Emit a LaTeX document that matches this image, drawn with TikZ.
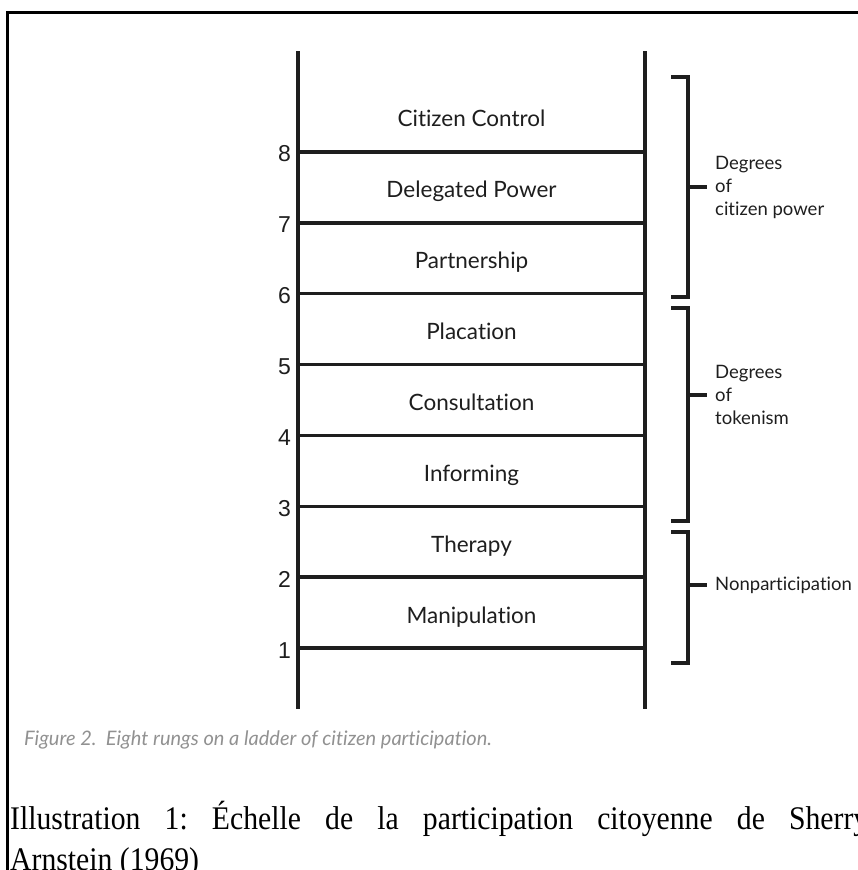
\documentclass[tikz,border=0pt]{standalone}
\usepackage{fontspec}
\setmainfont{Liberation Serif}
\setsansfont[Ligatures={NoCommon,NoRequired,NoContextual}]{Lato}
\newfontfamily\numfont{Liberation Sans}
\newfontfamily\illusfont[FakeStretch=0.9]{Liberation Serif}
\usetikzlibrary{positioning}
\definecolor{ink}{RGB}{30,30,30}
\definecolor{capgray}{RGB}{145,145,145}
\frenchspacing
\tikzset{
  rail/.style={line width=4pt, draw=ink},
  rung/.style={line width=3.5pt, draw=ink},
  brack/.style={line width=3.5pt, draw=ink, line join=miter},
  grplabel/.style={font=\sffamily\fontsize{18.5}{23}\selectfont, text=ink, align=left, inner sep=0pt}
}

\begin{document}
\begin{tikzpicture}[
  x=1pt, y=-1pt,
  rungtext/.style={font=\sffamily\fontsize{22.5}{26}\selectfont, text=ink, anchor=base, inner sep=0pt},
  numtext/.style={font=\numfont\fontsize{23}{26}\selectfont, text=ink, anchor=base east, inner sep=0pt}
]
\useasboundingbox (0,0) rectangle (858,870);

% frame of the page
\draw[line width=2.2pt] (7.5,880) -- (7.5,12.5) -- (870,12.5);

% Rails
\coordinate (railLt) at (298,51);  \coordinate (railLb) at (298,709);
\coordinate (railRt) at (645,51);  \coordinate (railRb) at (645,709);
\draw[rail] (railLt) -- (railLb);
\draw[rail] (railRt) -- (railRb);

% Rungs with numbers and names
\foreach \k/\txt in {1/Manipulation,2/Therapy,3/Informing,4/Consultation,5/Placation,6/Partnership,7/Delegated Power,8/Citizen Control} {
  \pgfmathsetmacro\yk{648-(\k-1)*70.86}
  \coordinate (L\k) at (298,\yk);
  \coordinate (R\k) at (645,\yk);
  \draw[rung] (L\k) -- (R\k);
  \node[numtext] (num\k) at (291,\yk+10) {\k};
  \node[rungtext] (name\k) at (471.5,\yk-25) {\txt};
}

% Brackets
\foreach \b/\top/\bot/\tick in {1/77/297/187, 2/308/521/395, 3/532/663/585} {
  \coordinate (bt\b) at (671,\top);
  \coordinate (bb\b) at (671,\bot);
  \coordinate (sp\b) at (688,\tick);
  \coordinate (tk\b) at (707,\tick);
  \draw[brack] (bt\b) -- (688,\top) -- (688,\bot) -- (bb\b);
  \draw[brack] (sp\b) -- (tk\b);
}
\node[grplabel, right=8pt of tk1] (power) {Degrees\\of\\citizen power};
\node[grplabel, right=8pt of tk2] (token) {Degrees\\of\\tokenism};
\node[grplabel, right=8pt of tk3] (nonpart) {Nonparticipation};

% Captions
\node[font=\sffamily\itshape\fontsize{20}{24}\selectfont, text=capgray, anchor=base west, inner sep=0pt]
  (figcap) at (24,745) {Figure 2.\ \ Eight rungs on a ladder of citizen participation.};
\node[font=\illusfont\fontsize{33}{41}\selectfont, anchor=base west, inner sep=0pt, text width=858pt, align=justify]
  (illus) at (10,829) {Illustration 1: Échelle de la participation citoyenne de Sherry\linebreak Arnstein (1969)};

\end{tikzpicture}
\end{document}
